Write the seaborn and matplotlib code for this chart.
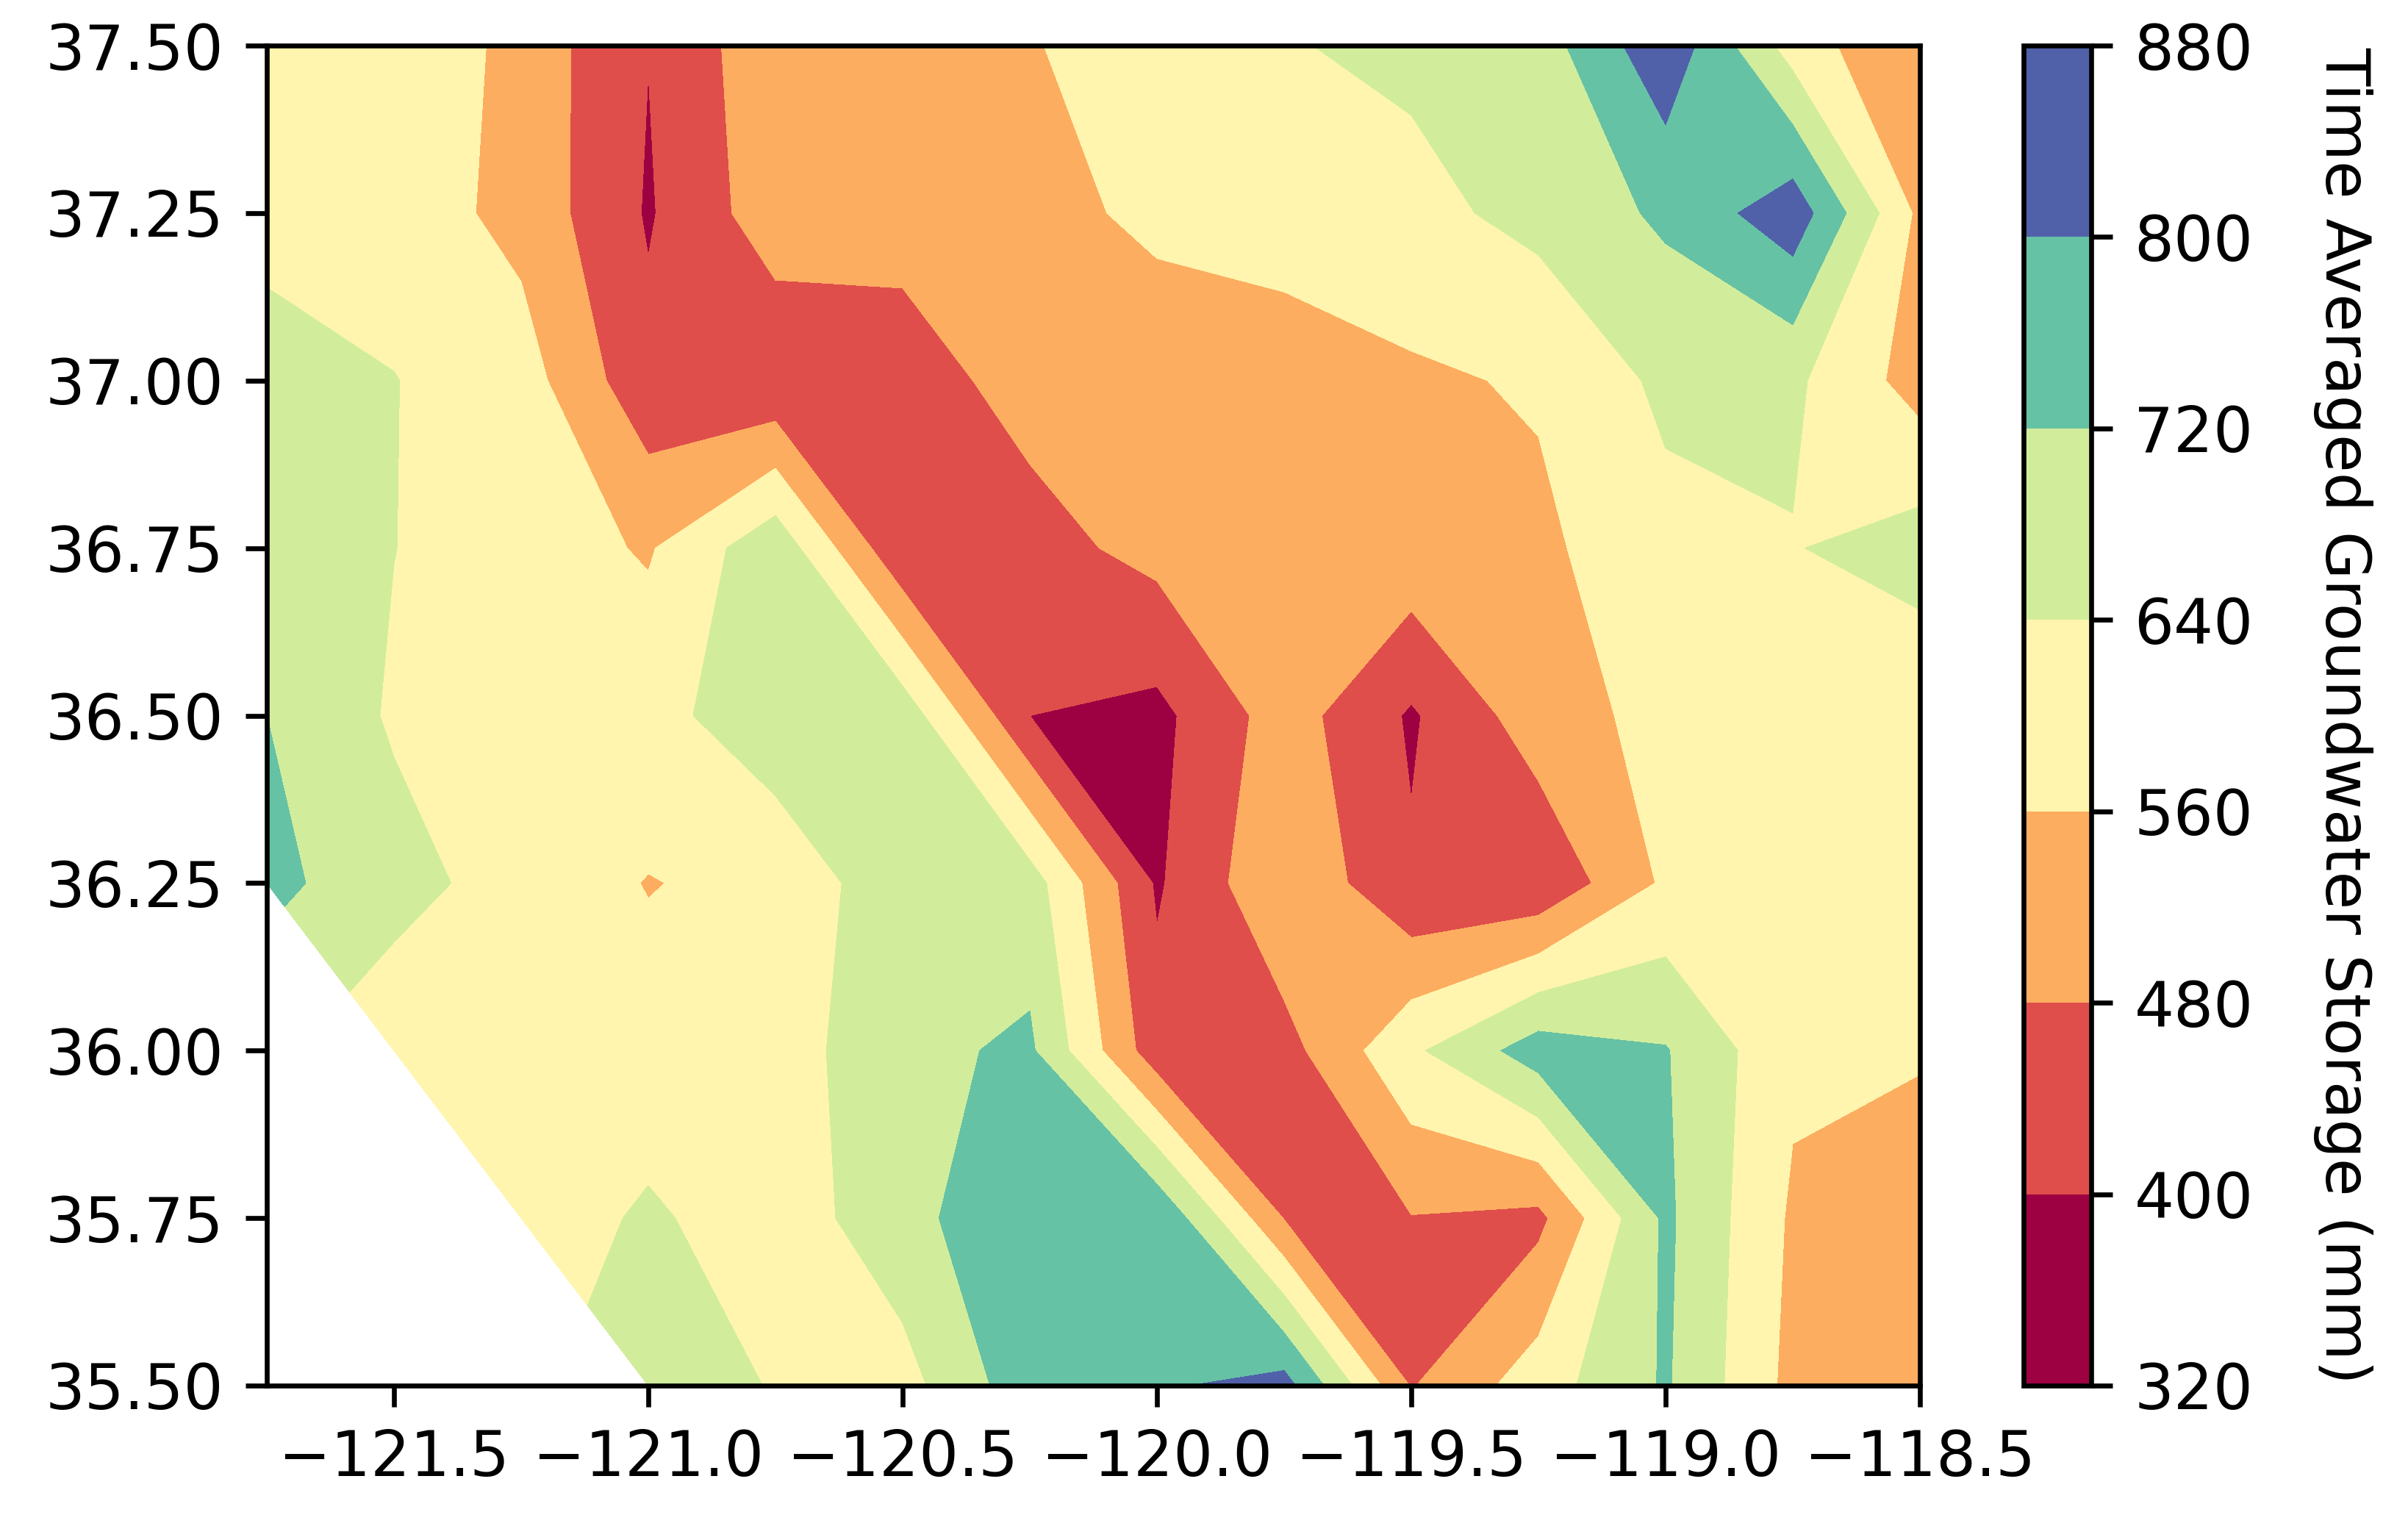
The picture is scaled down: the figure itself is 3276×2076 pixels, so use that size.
import numpy as np
import matplotlib
matplotlib.use("Agg")
import matplotlib.pyplot as plt
import seaborn as sns

lons = [-121.75, -121.5, -121.25, -121.0, -120.75, -120.5, -120.25, -120.0, -119.75, -119.5, -119.25, -119.0, -118.75, -118.5]
lats = [37.5, 37.25, 37.0, 36.75, 36.5, 36.25, 36.0, 35.75, 35.5]
nan = float("nan")
row_37_50 = [610, 639, 530, 401.5, 538, 548, 555, 600, 635, 657, 681, 859, 603, 480]
row_37_25 = [620, 605, 535, 392, 526, 510, 540, 573, 600, 616, 664, 734, 850, 541]
row_37_00 = [665, 642, 596, 423, 411, 443, 510, 525, 515, 548, 568, 657, 655, 525]
row_36_75 = [670, 641, 600, 552, 695, 410, 450, 505, 530, 534, 544, 615, 636, 678]
row_36_50 = [720, 630, 600, 610, 695, 689, 400, 378, 518, 390, 523, 585, 620, 575]
row_36_25 = [742, 670, 603, 557, 580, 695, 678, 390, 550, 410, 413, 573, 610, 590]
row_36_00 = [nan, 585, 590, 590, 600, 700, 733, 430, 450, 625, 760, 725, 575, 570]
row_35_75 = [nan, nan, 592, 652, 595, 690, 795, 793, 477, 477, 459, 735, 548, 500]
row_35_50 = [nan, nan, nan, 684, 635, 610, 770, 789, 832, 475, 602, 729, 536, 495]
levels = [320, 400, 480, 560, 640, 720, 800, 880]
cbar_label = "Time Averaged Groundwater Storage (mm)"

sns.set_theme(style="ticks", rc={"font.family": "DejaVu Sans"})
plt.rcParams.update({"font.size": 10.2, "axes.linewidth": 0.8, "xtick.major.size": 3.5, "ytick.major.size": 3.5,
                     "xtick.major.width": 0.8, "ytick.major.width": 0.8, "text.color": "black",
                     "axes.labelcolor": "black", "xtick.color": "black", "ytick.color": "black",
                     "axes.edgecolor": "black"})
Z = np.array([row_37_50, row_37_25, row_37_00, row_36_75, row_36_50, row_36_25, row_36_00, row_35_75, row_35_50], dtype=float)
Z = np.ma.masked_invalid(Z)

W, H = 3276, 2076
fig = plt.figure(figsize=(W/600, H/600), dpi=600)
ax = fig.add_axes([363/W, 1 - 1885/H, (2612-363)/W, (1885-62)/H])
cs = ax.contourf(lons, lats, Z, levels=levels, cmap=sns.color_palette("Spectral", as_cmap=True), vmin=376, vmax=856)
ax.set_xticks([-121.5, -121.0, -120.5, -120.0, -119.5, -119.0, -118.5])
ax.set_yticks([35.5, 35.75, 36.0, 36.25, 36.5, 36.75, 37.0, 37.25, 37.5])
ax.set_yticklabels(["35.50", "35.75", "36.00", "36.25", "36.50", "36.75", "37.00", "37.25", "37.50"])
ax.tick_params(labelsize=10.2)
for s in ax.spines.values():
    s.set_visible(True)
cax = fig.add_axes([2753/W, 1 - 1885/H, (2845-2753)/W, (1885-62)/H])
cb = fig.colorbar(cs, cax=cax)
cb.set_ticks(levels)
cb.ax.tick_params(labelsize=10.2)
cb.set_label(cbar_label, rotation=270, fontsize=10.1, labelpad=19.5)
fig.savefig("out.png", dpi=600)
